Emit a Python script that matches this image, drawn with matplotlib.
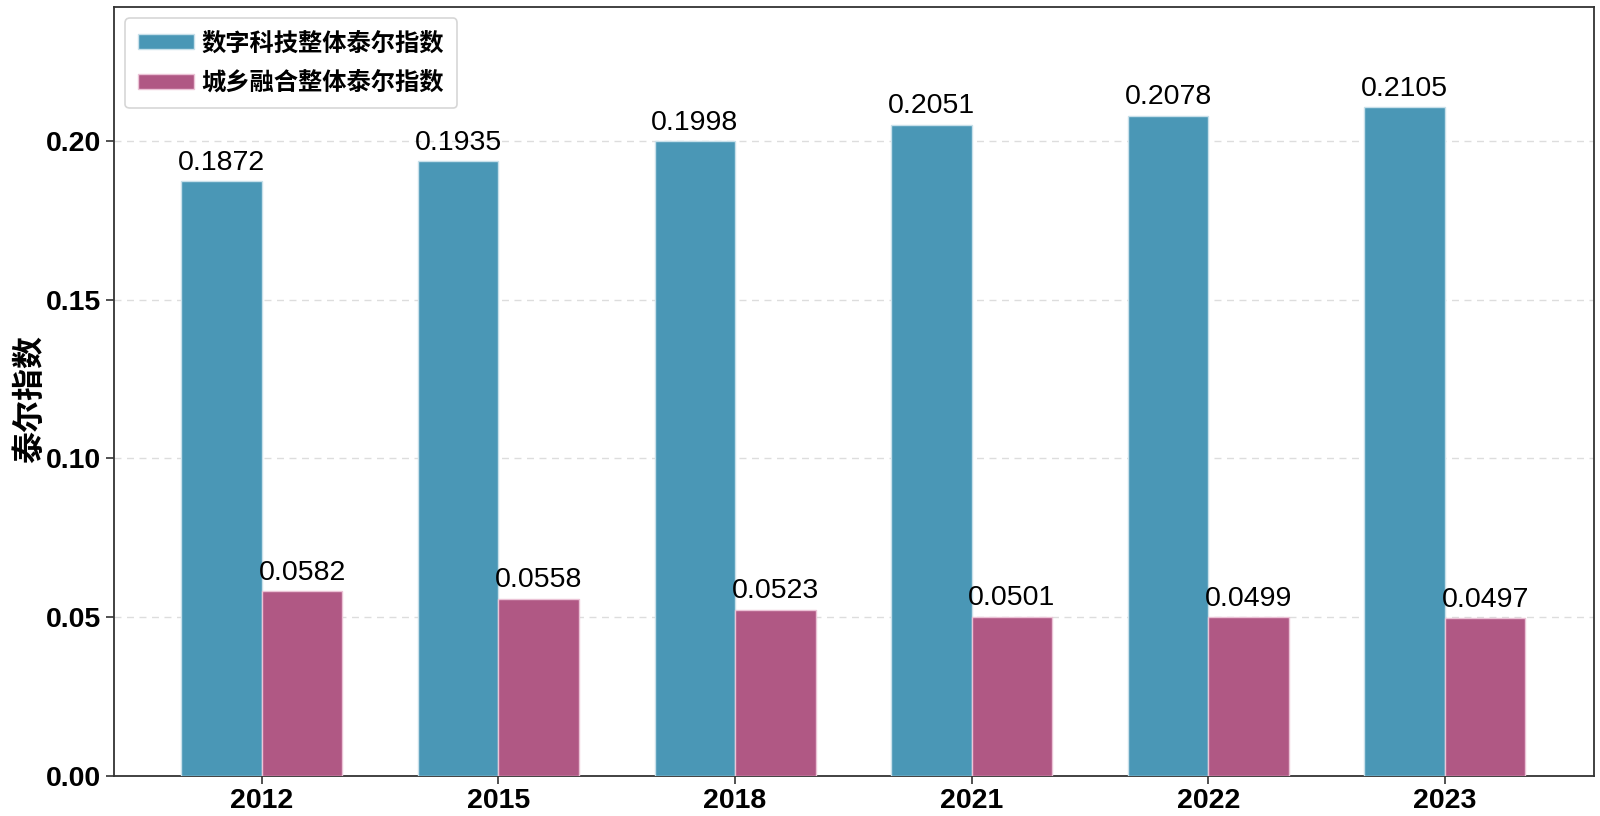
import matplotlib
matplotlib.use("Agg")
import matplotlib.pyplot as plt
import numpy as np

years = ["2012", "2015", "2018", "2021", "2022", "2023"]
digital = [0.1872, 0.1935, 0.1998, 0.2051, 0.2078, 0.2105]
urban_rural = [0.0582, 0.0558, 0.0523, 0.0501, 0.0499, 0.0497]
series_names = ["数字科技整体泰尔指数", "城乡融合整体泰尔指数"]
ylabel = "泰尔指数"

plt.rcParams['font.family'] = ['Liberation Sans', 'Noto Sans CJK SC', 'DejaVu Sans']

fig = plt.figure(figsize=(16, 8.16), dpi=100)
ax = fig.add_axes([114/1600, 1 - 776/816, (1594-114)/1600, (776-7)/816])

x = np.arange(len(years))
w = 0.34
c1 = "#4A97B6"
c2 = "#B05884"
b1 = ax.bar(x - w/2, digital, w, color=c1, edgecolor="#C8E0EA", linewidth=1.0, label=series_names[0], zorder=3)
b2 = ax.bar(x + w/2, urban_rural, w, color=c2, edgecolor="#EBC3D6", linewidth=1.0, label=series_names[1], zorder=3)

for rect, v in zip(b1, digital):
    ax.annotate(f"{v:.4f}", (rect.get_x() + rect.get_width()/2, v), xytext=(0, 4),
                textcoords="offset points", ha="center", va="bottom", fontsize=20.5)
for rect, v in zip(b2, urban_rural):
    ax.annotate(f"{v:.4f}", (rect.get_x() + rect.get_width()/2, v), xytext=(0, 4),
                textcoords="offset points", ha="center", va="bottom", fontsize=20.5)

ax.set_xlim(-0.625, 5.63)
ax.set_ylim(0, 0.2421)
ax.set_xticks(x)
ax.set_xticklabels(years)
ax.set_yticks([0.0, 0.05, 0.10, 0.15, 0.20])
ax.set_yticklabels(["0.00", "0.05", "0.10", "0.15", "0.20"])
for lab in ax.get_xticklabels() + ax.get_yticklabels():
    lab.set_fontsize(20.5)
    lab.set_fontweight("bold")
ax.tick_params(axis="both", length=6, width=1.2, color="#333333", pad=3)

ax.set_ylabel(ylabel, fontsize=23, fontweight="bold", family=['Noto Sans CJK SC'], labelpad=2)
ax.yaxis.set_label_coords(-0.046, 0.49)

ax.yaxis.grid(True, linestyle=(0, (5, 4)), color="#DDDDDD", linewidth=1.0, zorder=0)
ax.set_axisbelow(True)
for s in ax.spines.values():
    s.set_color("#333333")
    s.set_linewidth(1.3)

leg = ax.legend(loc="upper left", prop={'family': ['Noto Sans CJK SC'], 'weight': 'bold', 'size': 17.5},
                handlelength=2.3, handleheight=0.6, frameon=True, fancybox=True, borderpad=0.55,
                labelspacing=0.65, handletextpad=0.3, borderaxespad=0.45)
leg.get_frame().set_edgecolor("#CCCCCC")
leg.get_frame().set_linewidth(1.2)

fig.savefig("out.png", dpi=100)
